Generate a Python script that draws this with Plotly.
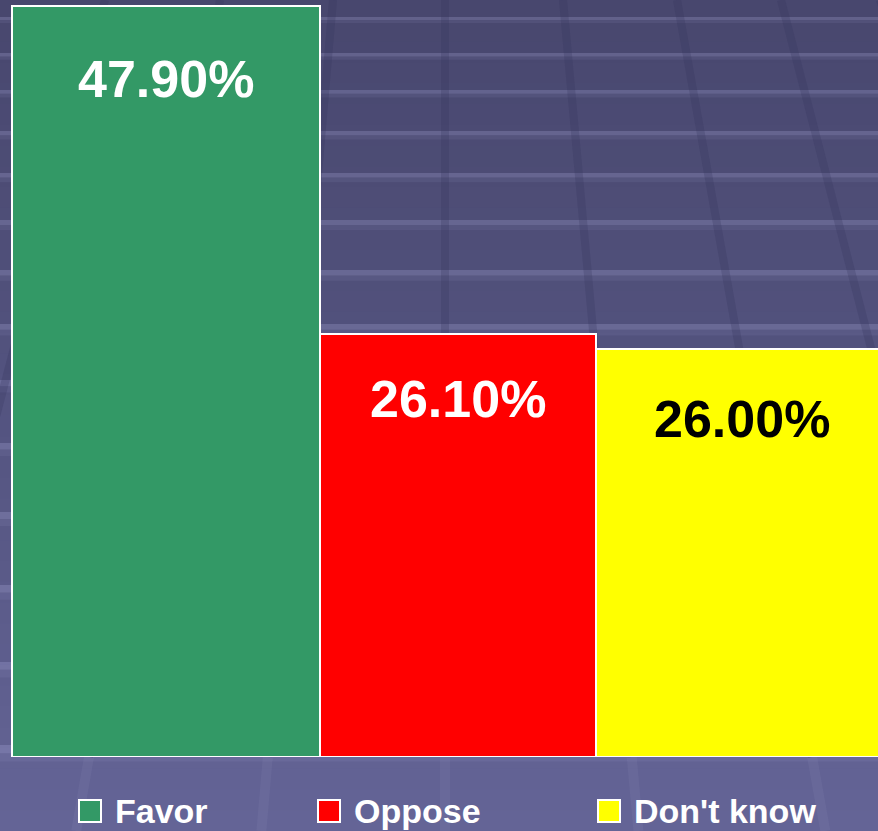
import plotly.graph_objects as go

# data
categories = ["Favor", "Oppose", "Don't know"]
bar_heights = [47.9, 27.0, 26.0]
bar_labels = ["47.90%", "26.10%", "26.00%"]
bar_colors = ["#339966", "#ff0000", "#ffff00"]
label_colors = ["white", "white", "black"]

W, H = 878, 831
PLOT_BOTTOM = 757          # pixel row of the bar baseline
BAR_EDGES = [12, 320, 596, 888]
LABEL_SHIFT = [-42, -34, -39]
FONT = "Liberation Sans, Arial, sans-serif"


def px(x):
    return x / W


def py(y):
    return (PLOT_BOTTOM - y) / PLOT_BOTTOM


def mix(c0, c1, t):
    return "rgb(%d,%d,%d)" % tuple(round(a + (b - a) * t) for a, b in zip(c0, c1))


shapes = []

# backdrop: vertical gradient
top_col, mid_col, bot_col = (72, 71, 110), (84, 84, 128), (100, 100, 150)
n = 40
for i in range(n):
    y0, y1 = H * i / n, H * (i + 1) / n + 1
    t = i / (n - 1)
    col = mix(top_col, mid_col, t * 2) if t < 0.5 else mix(mid_col, bot_col, (t - 0.5) * 2)
    shapes.append(dict(type="rect", xref="paper", yref="paper", layer="below",
                       x0=-0.01, x1=1.01, y0=py(y0), y1=py(y1),
                       fillcolor=col, line_width=0))

# backdrop: light horizontal bands of the floor grid
band_rows = [17, 53, 90, 131, 173, 220, 270, 324, 380, 443, 512, 585, 662, 745]
for k, y in enumerate(band_rows):
    h = 3 + k * 0.4
    shapes.append(dict(type="rect", xref="paper", yref="paper", layer="below",
                       x0=0, x1=1, y0=py(y), y1=py(y + h),
                       fillcolor="rgba(190,190,240,0.22)", line_width=0))
    shapes.append(dict(type="rect", xref="paper", yref="paper", layer="below",
                       x0=0, x1=1, y0=py(y + h), y1=py(y + 2 * h),
                       fillcolor="rgba(190,190,240,0.08)", line_width=0))

# backdrop: darker receding lines
line_tops = [105, 220, 333, 445, 563, 677, 781, 880]
for xt in line_tops:
    slope = (xt - 445) / 1300
    shapes.append(dict(type="line", xref="paper", yref="paper", layer="below",
                       x0=px(xt), y0=py(0), x1=px(xt + slope * PLOT_BOTTOM), y1=py(PLOT_BOTTOM),
                       line=dict(color="rgba(50,50,90,0.25)", width=8)))
    shapes.append(dict(type="line", xref="paper", yref="paper", layer="below",
                       x0=px(xt + slope * PLOT_BOTTOM), y0=py(PLOT_BOTTOM),
                       x1=px(xt + slope * H), y1=py(H),
                       line=dict(color="rgba(200,200,240,0.06)", width=10)))

centers = [(a + b) / 2 for a, b in zip(BAR_EDGES[:-1], BAR_EDGES[1:])]
widths = [b - a for a, b in zip(BAR_EDGES[:-1], BAR_EDGES[1:])]

fig = go.Figure()
fig.add_trace(go.Bar(
    x=centers, y=bar_heights, width=widths,
    marker=dict(color=bar_colors, line=dict(color="white", width=2)),
    showlegend=False, hoverinfo="skip",
))

annotations = []
for xc, h, lab, col, dy in zip(centers, bar_heights, bar_labels, label_colors, LABEL_SHIFT):
    annotations.append(dict(
        x=min(xc, 742), y=h, xref="x", yref="y", text="<b>%s</b>" % lab,
        showarrow=False, yanchor="top", yshift=dy,
        font=dict(family=FONT, size=52, color=col),
    ))

# legend drawn by hand so the swatches can be as large as the reference
legend_x = [79, 318, 598]
for x0, cat, col in zip(legend_x, categories, bar_colors):
    shapes.append(dict(type="rect", xref="paper", yref="paper",
                       x0=px(x0), x1=px(x0 + 22), y0=py(800), y1=py(822),
                       fillcolor=col, line=dict(color="white", width=2)))
    annotations.append(dict(
        x=px(x0 + 34), y=py(811), xref="paper", yref="paper",
        text="<b>%s</b>" % cat, showarrow=False, xanchor="left", yanchor="middle",
        font=dict(family=FONT, size=34, color="white"),
    ))

ytop = PLOT_BOTTOM / (PLOT_BOTTOM - 6) * bar_heights[0]
fig.update_layout(
    width=W, height=H,
    margin=dict(l=0, r=0, t=0, b=H - PLOT_BOTTOM),
    paper_bgcolor="#555582", plot_bgcolor="rgba(0,0,0,0)",
    xaxis=dict(range=[0, W], visible=False, fixedrange=True),
    yaxis=dict(range=[0, ytop], visible=False, fixedrange=True),
    bargap=0, shapes=shapes, annotations=annotations,
    showlegend=False,
)

# drop the page's default body margin so the chart fills the window
fig.write_html("out.html", config={"displayModeBar": False},
               post_script="document.body.style.margin='0';document.body.style.overflow='hidden';")
